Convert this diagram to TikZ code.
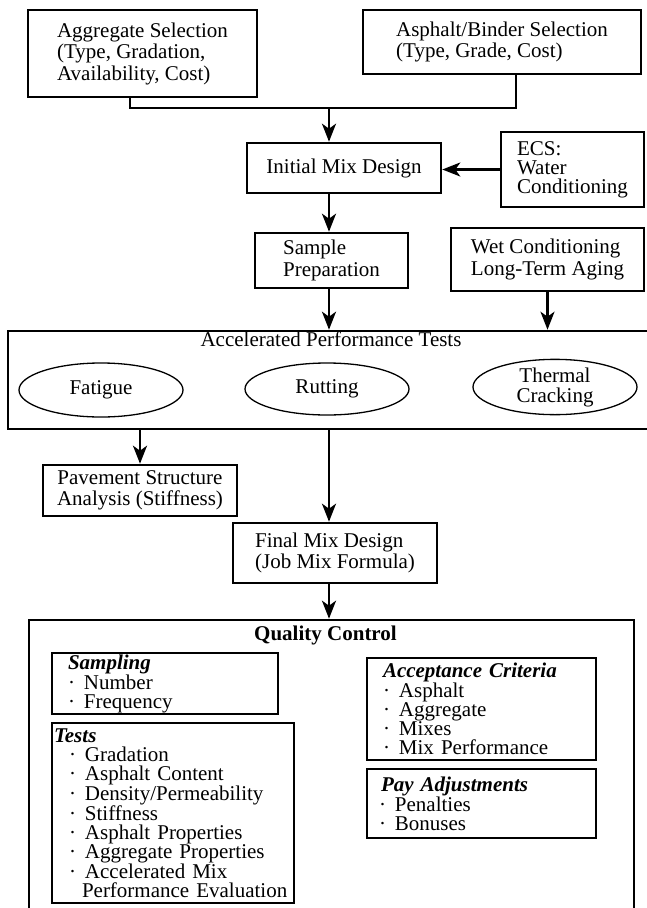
\documentclass[tikz,border=0pt]{standalone}
\usepackage{fontspec}
\setmainfont{Liberation Serif}
\usetikzlibrary{arrows.meta,shapes.geometric}

% bullet of the quality control lists
\newcommand{\qcitem}{\makebox[16pt][l]{·}}

\begin{document}
\begin{tikzpicture}[
    x=1pt, y=-1pt,
    every node/.style={font=\fontsize{21}{21.5}\selectfont, inner sep=0pt},
    stage/.style={draw, line width=2.6pt, align=left},
    test/.style={draw, ellipse, line width=1.3pt, align=center,
        minimum width=164pt, minimum height=54pt},
    listbox/.style={draw, line width=1.8pt, align=left,
        font=\fontsize{21}{19}\selectfont},
    flow/.style={line width=2.4pt, -{Stealth[length=18pt, width=14pt, inset=5pt]}},
    link/.style={line width=2.4pt}
        ]

    \path [use as bounding box] (0,0) rectangle (646,908);

    % selection
    \node [stage, minimum width=229pt, minimum height=87pt] (agg) at (142.5,53.5)
        {Aggregate Selection\\(Type, Gradation,\\Availability, Cost)};
    \node [stage, minimum width=278pt, minimum height=64pt] (asp) at (502,42)
        {Asphalt/Binder Selection\\(Type, Grade, Cost)};

    % mix design
    \node [stage, minimum width=194pt, minimum height=50pt] (mix) at (344,168)
        {Initial Mix Design};
    \node [stage, minimum width=143pt, minimum height=75pt,
        font=\fontsize{21}{19}\selectfont] (ecs) at (572.5,169.5)
        {ECS:\\Water\\Conditioning};
    \node [stage, minimum width=153pt, minimum height=55pt] (samp) at (331.5,260.5)
        {Sample\\Preparation};
    \node [stage, minimum width=193pt, minimum height=63pt] (wet) at (547.5,259.5)
        {Wet Conditioning\\Long-Term Aging};

    % accelerated performance tests
    \node [stage, minimum width=640pt, minimum height=98pt] (apt) at (328,380) {};
    \node [anchor=base] (apttitle) at (331,346) {Accelerated Performance Tests};
    \node [test] (fatigue) at (101,390) {Fatigue};
    \node [test, minimum height=52pt] (rutting) at (327,389) {Rutting};
    \node [test, font=\fontsize{21}{20}\selectfont] (thermal) at (555,387)
        {Thermal\\Cracking};

    \node [stage, align=center, minimum width=194pt, minimum height=51pt] (pave)
        at (140,490.5) {Pavement Structure\\Analysis (Stiffness)};
    \node [stage, minimum width=204pt, minimum height=60pt] (final) at (335,553)
        {Final Mix Design\\(Job Mix Formula)};

    % quality control
    \node [stage, minimum width=605pt, minimum height=292pt] (qc) at (331.5,766) {};
    \node [anchor=base] (qctitle) at (325.5,640) {\textbf{Quality Control}};

    \node [listbox, text width=194pt, minimum width=226pt, minimum height=61pt]
        (sampling) at (165,683.5)
        {\textbf{\textit{Sampling}}\\\qcitem Number\\\qcitem Frequency};
    \node [listbox, text width=238pt, minimum width=242pt, minimum height=180pt]
        (tests) at (173,813)
        {\textbf{\textit{Tests}}\\
         \hspace*{15pt}\qcitem Gradation\\
         \hspace*{15pt}\qcitem Asphalt Content\\
         \hspace*{15pt}\qcitem Density/Permeability\\
         \hspace*{15pt}\qcitem Stiffness\\
         \hspace*{15pt}\qcitem Asphalt Properties\\
         \hspace*{15pt}\qcitem Aggregate Properties\\
         \hspace*{15pt}\qcitem Accelerated Mix\\
         \hspace*{28pt}Performance Evaluation};
    \node [listbox, text width=197pt, minimum width=229pt, minimum height=102pt]
        (accept) at (481.5,709)
        {\textbf{\textit{Acceptance Criteria}}\\
         \qcitem Asphalt\\
         \qcitem Aggregate\\
         \qcitem Mixes\\
         \qcitem Mix Performance};
    \node [listbox, text width=201pt, minimum width=229pt, minimum height=69pt]
        (pay) at (481.5,803.5)
        {\textbf{\textit{Pay Adjustments}}\\
         \hspace*{-2pt}\qcitem Penalties\\
         \hspace*{-2pt}\qcitem Bonuses};

    % connectors
    \coordinate (spine) at (329,108);
    \coordinate (aggout) at (130,0);
    \coordinate (aspout) at (516,0);

    \draw [link] (agg.south -| aggout) |- (spine) -| (asp.south -| aspout);
    \draw [flow] (spine) -- (mix.north -| spine);
    \draw [flow] (ecs.west) -- (ecs.west -| mix.east);
    \draw [flow] (mix.south -| spine) -- (samp.north -| spine);
    \draw [flow] (samp.south -| spine) -- (apt.north -| spine);
    \draw [flow] (wet.south) -- (wet.south |- apt.north);
    \draw [flow] (apt.south -| pave.north) -- (pave.north);
    \draw [flow] (apt.south -| spine) -- (final.north -| spine);
    \draw [flow] (final.south -| spine) -- (qc.north -| spine);

\end{tikzpicture}
\end{document}
